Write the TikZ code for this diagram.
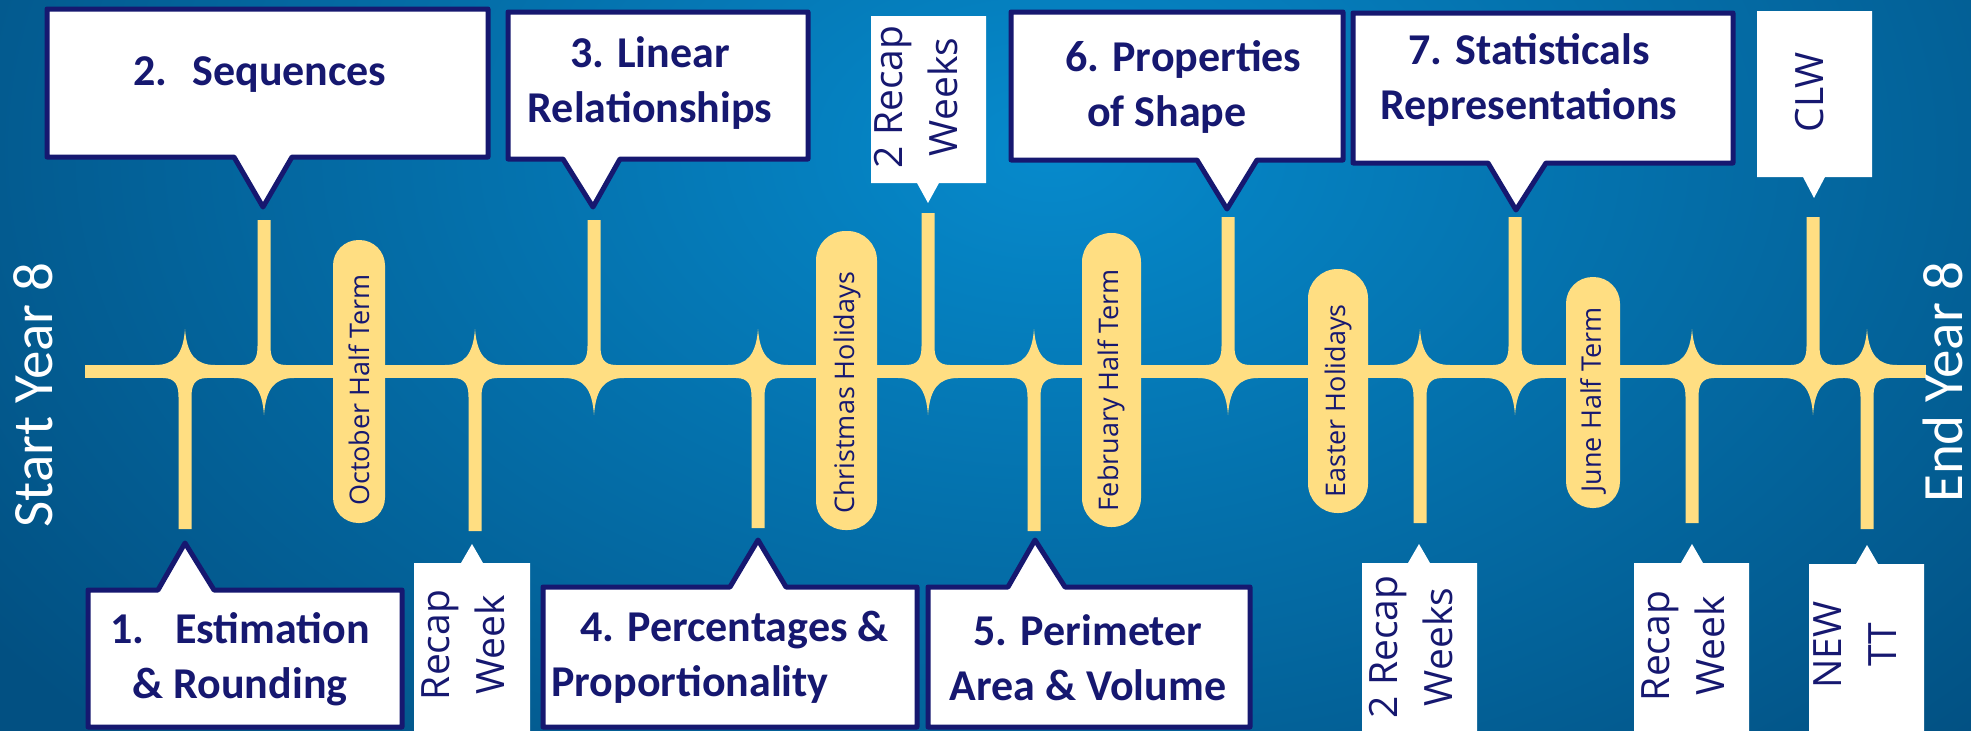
\documentclass[tikz,border=0pt]{standalone}
\usepackage{fontspec}
\setmainfont{Carlito}
\newfontfamily\opensans{Open Sans}
\definecolor{navy}{RGB}{22,24,112}
\definecolor{ribbon}{RGB}{255,222,130}
\definecolor{seain}{RGB}{6,138,204}
\definecolor{seaout}{RGB}{2,80,130}
\tikzset{
  bar/.style={fill=ribbon},
  bubble/.style={fill=white,draw=navy,line width=5pt,line join=round},
  tag/.style={fill=white},
  topic/.style={text=navy,font=\fontsize{44}{55}\selectfont\bfseries,inner sep=0pt},
  recap/.style={text=navy,font=\opensans\fontsize{39}{55}\selectfont,align=center,rotate=90,inner sep=0pt},
  holiday/.style={text=navy,font=\opensans\fontsize{27}{32}\selectfont,rotate=90,inner sep=0pt},
  yearlabel/.style={text=white,font=\fontsize{57}{68}\selectfont,rotate=90,inner sep=0pt,text depth=0pt,anchor=base},
}
\begin{document}
\begin{tikzpicture}[x=1pt,y=-1pt]
\useasboundingbox (0,0) rectangle (1971,731);
\fill[seaout] (0,0) rectangle (1971,731);
\begin{scope}
\clip (0,0) rectangle (1971,731);
\shade[inner color=seain,outer color=seaout] (1050,150) ellipse (1300 and 850);
\end{scope}

\fill[bar] (85,365) rectangle (1926,378);
\foreach \xs/\ys in {185/529,475/531,758/528,1034/531,1420/523,1692/523,1867/529}{
  \fill[bar] (\xs-22,378) .. controls (\xs-9,378) and (\xs-6.5,386) .. (\xs-6.5,397) -- (\xs-6.5,\ys) -- (\xs+6.5,\ys) -- (\xs+6.5,397) .. controls (\xs+6.5,386) and (\xs+9,378) .. (\xs+22,378) -- cycle;
  \fill[bar] (\xs-30,365) .. controls (\xs-11,365) and (\xs-2,355) .. (\xs,329) .. controls (\xs+2,355) and (\xs+11,365) .. (\xs+30,365) -- cycle;
}
\foreach \xs/\ys in {264/220,594/220,928/213,1228/217,1515/217,1813/217}{
  \fill[bar] (\xs-22,365) .. controls (\xs-9,365) and (\xs-6.5,357) .. (\xs-6.5,346) -- (\xs-6.5,\ys) -- (\xs+6.5,\ys) -- (\xs+6.5,346) .. controls (\xs+6.5,357) and (\xs+9,365) .. (\xs+22,365) -- cycle;
  \fill[bar] (\xs-30,378) .. controls (\xs-11,378) and (\xs-2,388) .. (\xs,415) .. controls (\xs+2,388) and (\xs+11,378) .. (\xs+30,378) -- cycle;
}
\fill[bar,rounded corners=25.5pt] (333,240) rectangle (385,523);
\fill[bar,rounded corners=29.5pt] (816,231) rectangle (877,530);
\fill[bar,rounded corners=29pt] (1082,233) rectangle (1141,527);
\fill[bar,rounded corners=29.5pt] (1308,269) rectangle (1368,513);
\fill[bar,rounded corners=26.5pt] (1566,277) rectangle (1620,508);

\draw[bubble] (47,9) -- (488,9) -- (488,157) -- (292,157) -- (263,207) -- (234,157) -- (47,157) -- cycle;
\draw[bubble] (508,12) -- (808,12) -- (808,159) -- (620,159) -- (593,207) -- (563,159) -- (508,159) -- cycle;
\draw[bubble] (1011,12) -- (1343,12) -- (1343,160) -- (1257,160) -- (1227,209) -- (1197,160) -- (1011,160) -- cycle;
\draw[bubble] (1353,13) -- (1733,13) -- (1733,163) -- (1546,163) -- (1516,210) -- (1488,163) -- (1353,163) -- cycle;
\draw[bubble] (88,727) -- (88,590) -- (158,590) -- (185,543) -- (214,590) -- (402,590) -- (402,727) -- cycle;
\draw[bubble] (543,727) -- (543,587) -- (730,587) -- (758,540) -- (786,587) -- (917,587) -- (917,727) -- cycle;
\draw[bubble] (928,727) -- (928,587) -- (1008,587) -- (1035,540) -- (1065,587) -- (1250,587) -- (1250,727) -- cycle;

\fill[tag] (871,16) -- (986,16) -- (986,183) -- (939,183) -- (928,203) -- (917,183) -- (871,183) -- cycle;
\fill[tag] (1757,11) -- (1872,11) -- (1872,177) -- (1825,177) -- (1814,198) -- (1803,177) -- (1757,177) -- cycle;
\fill[tag] (414,731) -- (414,563) -- (461,563) -- (472,544) -- (483,563) -- (530,563) -- (530,731) -- cycle;
\fill[tag] (1362,731) -- (1362,563) -- (1408,563) -- (1419,544) -- (1430,563) -- (1477,563) -- (1477,731) -- cycle;
\fill[tag] (1634,731) -- (1634,563) -- (1681,563) -- (1692,544) -- (1703,563) -- (1749,563) -- (1749,731) -- cycle;
\fill[tag] (1809,731) -- (1809,564) -- (1856,564) -- (1867,545) -- (1878,564) -- (1924,564) -- (1924,731) -- cycle;

\node[topic,anchor=base] (seq) at (260,85) {2.\hspace{25pt}Sequences};
\node[topic,align=center] (lin) at (650,83) {3. Linear\\Relationships};
\node[topic,align=left,anchor=west] (prop) at (1065,87) {6. Properties\\\hspace*{22pt}of Shape};
\node[topic,align=center] (stat) at (1529,80) {7. Statisticals\\Representations};
\node[topic,align=center] (est) at (240,659) {1.\hspace{31pt}Estimation\\\& Rounding};
\node[topic,align=left,anchor=west] (pct) at (551,657) {\hspace*{29pt}4. Percentages \&\\Proportionality};
\node[topic,align=center] (per) at (1088,658) {5. Perimeter\\Area \& Volume};

\node[recap] (wkstop) at (916,97) {2 Recap\\Weeks};
\node[recap] (clw) at (1810,92) {CLW};
\node[recap] (wkone) at (463,645) {Recap\\Week};
\node[recap] (wkstwo) at (1411,647) {2 Recap\\Weeks};
\node[recap] (wkthree) at (1683,646) {Recap\\Week};
\node[recap] (newtt) at (1855,645) {NEW\\TT};

\node[holiday] (oct) at (359,390) {October Half Term};
\node[holiday] (xmas) at (847,393) {Christmas Holidays};
\node[holiday] (feb) at (1111,390) {February Half Term};
\node[holiday] (easter) at (1338,401) {Easter Holidays};
\node[holiday] (june) at (1593,400) {June Half Term};

\node[yearlabel] (start) at (52,395) {Start Year 8};
\node[yearlabel] (finish) at (1962,382) {End Year 8};
\end{tikzpicture}
\end{document}
